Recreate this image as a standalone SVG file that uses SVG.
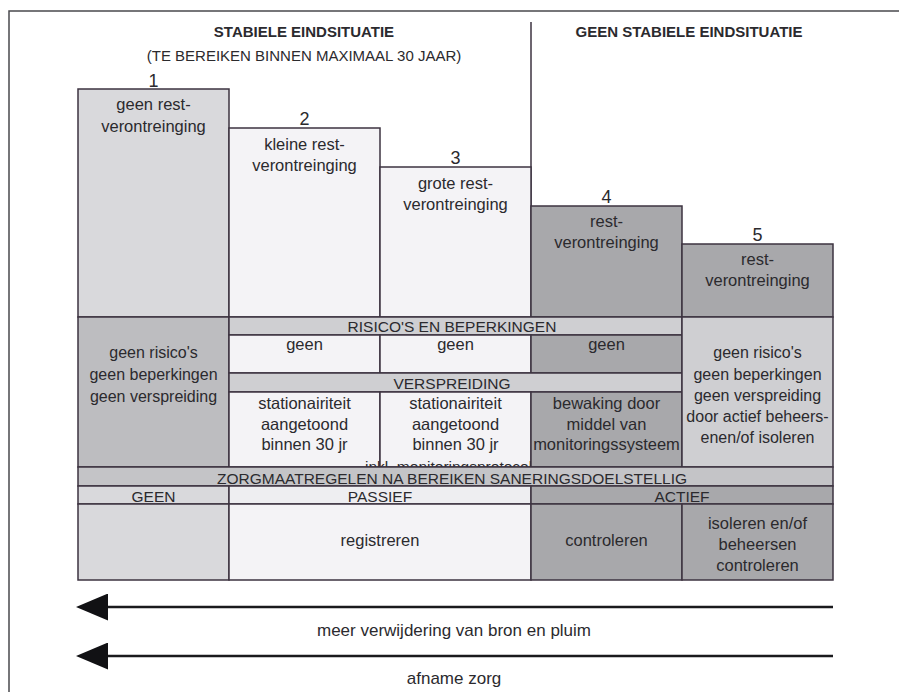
<svg xmlns="http://www.w3.org/2000/svg" width="899" height="692" viewBox="0 0 899 692">
<defs>
<style>
text{font-family:"Liberation Sans",Arial,sans-serif;fill:#2b2a2e;text-anchor:middle}
.h{font-size:15px;font-weight:bold}
.s{font-size:15px}
.n{font-size:18px}
.t{font-size:16.5px}
.u{font-size:16px}
.c{font-size:15.5px}
.b{font-size:17px}
.cell{stroke:#3d3340;stroke-width:1.5}
.l1{fill:#d9d9dc}
.w{fill:#f4f3f6}
.d{fill:#a8a8ab}
.m{fill:#c4c4c7}
.g{fill:#cfcfd2}
.con{stroke:#1a1a1d;stroke-width:2.7;fill:none}
</style>
<marker id="ah" viewBox="0 0 32 27" markerWidth="32" markerHeight="27" refX="18" refY="13.5" orient="auto" markerUnits="userSpaceOnUse">
<path d="M0,0 L32,13.5 L0,27 z" fill="#111114"/>
</marker>
<clipPath id="c3clip"><rect x="229" y="392" width="302" height="75"/></clipPath>
</defs>
<rect width="899" height="692" fill="#ffffff"/>
<path d="M899,11 H9 V692" fill="none" stroke="#4a4a4e" stroke-width="1.5"/>
<g id="headers">
<text class="h" x="304" y="37">STABIELE EINDSITUATIE</text>
<text class="s" x="304" y="61">(TE BEREIKEN BINNEN MAXIMAAL 30 JAAR)</text>
<text class="h" x="689" y="37">GEEN STABIELE EINDSITUATIE</text>
<line x1="531" y1="22" x2="531" y2="206" stroke="#3d3340" stroke-width="1.5"/>
</g>
<g id="col1-top">
<text class="n" x="153.5" y="87">1</text>
<rect class="cell l1" x="78" y="89" width="151" height="228"/>
<text class="t" x="153.5" y="110">geen rest-</text>
<text class="t" x="153.5" y="132">verontreinging</text>
</g>
<g id="col2-top">
<text class="n" x="304.5" y="125">2</text>
<rect class="cell w" x="229" y="128" width="151" height="189"/>
<text class="t" x="304.5" y="150">kleine rest-</text>
<text class="t" x="304.5" y="171">verontreinging</text>
</g>
<g id="col3-top">
<text class="n" x="455.5" y="164">3</text>
<rect class="cell w" x="380" y="167" width="151" height="150"/>
<text class="t" x="455.5" y="189">grote rest-</text>
<text class="t" x="455.5" y="210">verontreinging</text>
</g>
<g id="col4-top">
<text class="n" x="606.5" y="203">4</text>
<rect class="cell d" x="531" y="206" width="151" height="111"/>
<text class="t" x="606.5" y="227">rest-</text>
<text class="t" x="606.5" y="248">verontreinging</text>
</g>
<g id="col5-top">
<text class="n" x="757.5" y="241">5</text>
<rect class="cell d" x="682" y="244" width="151" height="73"/>
<text class="t" x="757.5" y="265">rest-</text>
<text class="t" x="757.5" y="286">verontreinging</text>
</g>
<g id="col1-mid">
<rect class="cell" fill="#bdbdc0" x="78" y="317" width="151" height="150"/>
<text class="u" x="153.5" y="358">geen risico's</text>
<text class="u" x="153.5" y="380">geen beperkingen</text>
<text class="u" x="153.5" y="402">geen verspreiding</text>
</g>
<g id="risico-band">
<rect class="cell g" x="229" y="317" width="453" height="18"/>
<text class="c" x="452" y="332">RISICO'S EN BEPERKINGEN</text>
</g>
<g id="geen2">
<rect class="cell w" x="229" y="335" width="151" height="38"/>
<text class="t" x="304.5" y="350">geen</text>
</g>
<g id="geen3">
<rect class="cell w" x="380" y="335" width="151" height="38"/>
<text class="t" x="455.5" y="350">geen</text>
</g>
<g id="geen4">
<rect class="cell d" x="531" y="335" width="151" height="38"/>
<text class="t" x="606.5" y="350">geen</text>
</g>
<g id="verspreiding-band">
<rect class="cell g" x="229" y="373" width="453" height="19"/>
<text class="c" x="452" y="389">VERSPREIDING</text>
</g>
<g id="spread2">
<rect class="cell w" x="229" y="392" width="151" height="75"/>
<text class="t" x="304.5" y="409">stationairiteit</text>
<text class="t" x="304.5" y="430">aangetoond</text>
<text class="t" x="304.5" y="450">binnen 30 jr</text>
</g>
<g id="spread3">
<rect class="cell w" x="380" y="392" width="151" height="75"/>
<text class="t" x="455.5" y="409">stationairiteit</text>
<text class="t" x="455.5" y="430">aangetoond</text>
<text class="t" x="455.5" y="450">binnen 30 jr</text>
<text class="c" x="365" y="472" style="text-anchor:start" clip-path="url(#c3clip)">inkl. monitoringsprotocol</text>
</g>
<g id="spread4">
<rect class="cell d" x="531" y="392" width="151" height="75"/>
<text class="t" x="606.5" y="409">bewaking door</text>
<text class="t" x="606.5" y="430">middel van</text>
<text class="t" x="606.5" y="450">monitoringssysteem</text>
</g>
<g id="col5-mid">
<rect class="cell g" x="682" y="317" width="151" height="150"/>
<text class="u" x="757.5" y="358">geen risico's</text>
<text class="u" x="757.5" y="379.5">geen beperkingen</text>
<text class="u" x="757.5" y="401">geen verspreiding</text>
<text class="u" x="757.5" y="422">door actief beheers-</text>
<text class="u" x="757.5" y="443">enen/of isoleren</text>
</g>
<g id="zorg-band">
<rect class="cell m" x="78" y="467" width="755" height="19"/>
<text class="c" x="452" y="484">ZORGMAATREGELEN NA BEREIKEN SANERINGSDOELSTELLIG</text>
</g>
<g id="geen-zorg">
<rect class="cell l1" x="78" y="486" width="151" height="18"/>
<text class="c" x="153.5" y="502">GEEN</text>
</g>
<g id="passief">
<rect class="cell" fill="#eeeef1" x="229" y="486" width="302" height="18"/>
<text class="c" x="380" y="502">PASSIEF</text>
</g>
<g id="actief">
<rect class="cell d" x="531" y="486" width="302" height="18"/>
<text class="c" x="682" y="502">ACTIEF</text>
</g>
<g id="bottom1">
<rect class="cell l1" x="78" y="504" width="151" height="76"/>
</g>
<g id="registreren">
<rect class="cell w" x="229" y="504" width="302" height="76"/>
<text class="t" x="380" y="546">registreren</text>
</g>
<g id="controleren">
<rect class="cell d" x="531" y="504" width="151" height="76"/>
<text class="t" x="606.5" y="546">controleren</text>
</g>
<g id="isoleren">
<rect class="cell d" x="682" y="504" width="151" height="76"/>
<text class="t" x="757.5" y="529">isoleren en/of</text>
<text class="t" x="757.5" y="550">beheersen</text>
<text class="t" x="757.5" y="571">controleren</text>
</g>
<g id="connectors">
<line class="con" x1="833" y1="607" x2="90" y2="607" marker-end="url(#ah)"/>
<line class="con" x1="833" y1="656" x2="90" y2="656" marker-end="url(#ah)"/>
</g>
<g id="arrow-labels">
<text class="b" x="454" y="636">meer verwijdering van bron en pluim</text>
<text class="b" x="454" y="684">afname zorg</text>
</g>
</svg>
